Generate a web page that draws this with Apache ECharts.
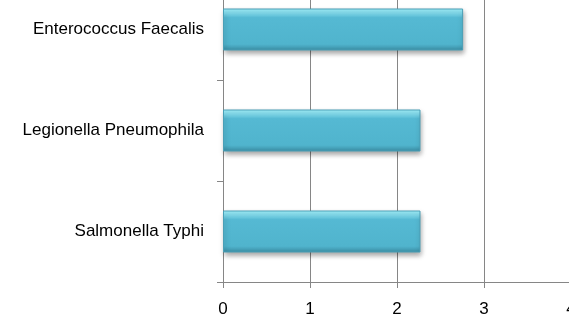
<!DOCTYPE html>
<html>
<head>
<meta charset="utf-8">
<script src="https://cdn.jsdelivr.net/npm/echarts@6/dist/echarts.min.js"></script>
<style>
  html, body { margin: 0; padding: 0; background: #fff; overflow: hidden; }
  body { width: 569px; height: 318px; position: relative; }
  /* the plot is cut off at the top and right in the original */
  #chart { position: absolute; left: 0; top: -21px; width: 600px; height: 339px; }
</style>
</head>
<body>
<div id="chart"></div>
<script>
// bacteria names, bottom to top
const categories = ["Salmonella Typhi", "Legionella Pneumophila", "Enterococcus Faecalis"];
const values = [2.27, 2.27, 2.76];
const valueTicks = [0, 1, 2, 3, 4];

const chart = echarts.init(document.getElementById("chart"));

const barColor = new echarts.graphic.LinearGradient(0, 0, 0, 1, [
  { offset: 0, color: "#a6f4fe" },
  { offset: 0.12, color: "#7fdbee" },
  { offset: 0.22, color: "#55b9d3" },
  { offset: 0.85, color: "#50b4cd" },
  { offset: 1, color: "#3a8ca3" },
]);

chart.setOption({
  animation: false,
  grid: {
    left: 223,
    top: 0,
    width: 348,
    height: 303,
  },
  xAxis: {
    type: "value",
    min: 0,
    max: 4,
    interval: 1,
    axisLine: { show: true, lineStyle: { color: "#868686", width: 1 } },
    axisTick: { show: true, length: 6, lineStyle: { color: "#868686" } },
    splitLine: { show: true, lineStyle: { color: "#868686", width: 1 } },
    axisLabel: {
      color: "#000",
      fontFamily: "Liberation Sans",
      fontSize: 17,
      margin: 19,
      formatter: (v) => (valueTicks.includes(v) ? String(v) : ""),
    },
  },
  yAxis: {
    type: "category",
    data: categories,
    axisLine: { show: true, lineStyle: { color: "#868686", width: 1 } },
    axisTick: { show: true, length: 6, lineStyle: { color: "#868686" } },
    axisLabel: {
      color: "#000",
      fontFamily: "Liberation Sans",
      fontSize: 17,
      margin: 19,
    },
  },
  series: [
    {
      type: "bar",
      data: values,
      barWidth: 42,
      itemStyle: {
        color: barColor,
        borderColor: "#4a9fb6",
        borderWidth: 1,
        shadowColor: "rgba(0,0,0,0.35)",
        shadowBlur: 5,
        shadowOffsetX: 1,
        shadowOffsetY: 3,
      },
    },
  ],
});
</script>
</body>
</html>
